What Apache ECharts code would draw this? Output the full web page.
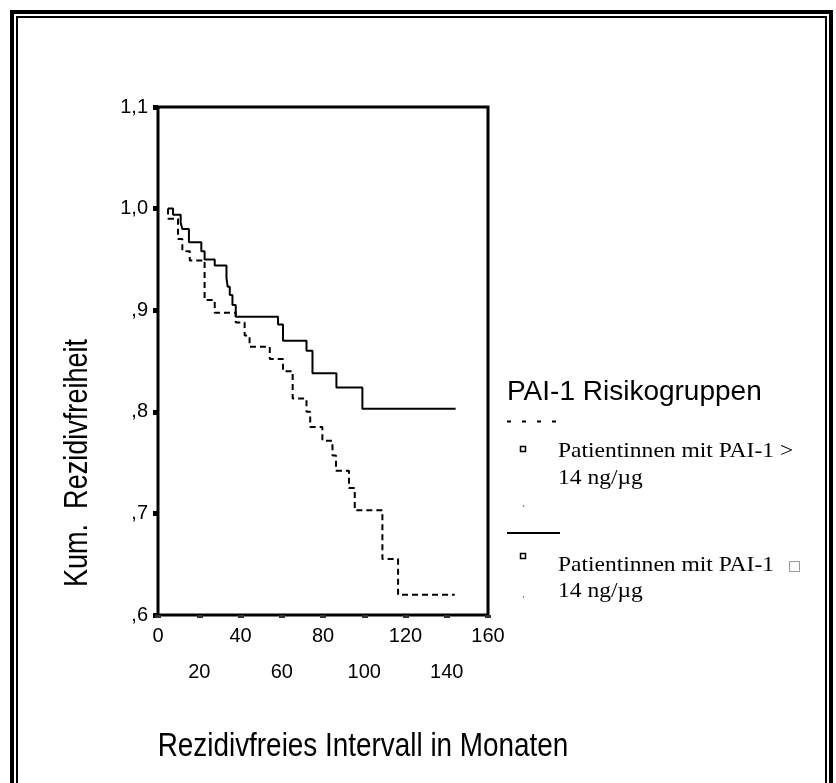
<!DOCTYPE html>
<html><head><meta charset="utf-8">
<script src="https://cdn.jsdelivr.net/npm/echarts@6/dist/echarts.min.js"></script>
<style>html,body{margin:0;padding:0;background:#fff}#c{width:836px;height:783px}</style>
</head><body><div id="c"></div>
<script>
// Kaplan-Meier curves (months, cumulative recurrence-free survival)
const highTimes = [4.85, 4.9, 9.7, 11.8, 15.4, 22.6, 27.5, 37.7, 42.0, 44.4, 54.2, 60.6, 65.3, 72.0, 73.8, 79.7, 84.6, 86.3, 92.6, 95.4, 108.8, 116.4, 143.9];
const highSurv  = [1.0, 0.990, 0.970, 0.958, 0.949, 0.910, 0.8975, 0.888, 0.875, 0.864, 0.852, 0.840, 0.813, 0.800, 0.785, 0.7715, 0.757, 0.742, 0.725, 0.703, 0.655, 0.620, 0.620];
const lowTimes = [4.85, 7.3, 11.0, 11.8, 15.0, 21.0, 22.6, 27.5, 33.2, 33.8, 34.8, 36.1, 37.7, 58.2, 60.6, 72.0, 74.9, 86.5, 99.1, 144.3];
const lowSurv  = [1.0, 0.994, 0.986, 0.980, 0.967, 0.958, 0.950, 0.944, 0.9315, 0.923, 0.915, 0.905, 0.8935, 0.886, 0.870, 0.860, 0.838, 0.824, 0.803, 0.803];
const xTickLabelsRow1 = [0, 40, 80, 120, 160];
const yTickLabels = {"1.1": "1,1", "1.0": "1,0", "0.9": ",9", "0.8": ",8", "0.7": ",7", "0.6": ",6"};
const legendTitle = "PAI-1 Risikogruppen";
const legendHigh = ["Patientinnen mit PAI-1 >", "14 ng/\u00b5g"];
const legendLow = ["Patientinnen mit PAI-1 ", "14 ng/\u00b5g"];
const xTitle = "Rezidivfreies Intervall in Monaten";
const yTitle = "Kum.  Rezidivfreiheit";

const zip = (t, s) => t.map((v, i) => [v, s[i]]);
const SANS = "'Liberation Sans', Arial, sans-serif";

const chart = echarts.init(document.getElementById('c'), null, {renderer: 'canvas'});
chart.setOption({
  backgroundColor: '#fff',
  animation: false,
  grid: {left: 158, top: 107, right: 348, bottom: 168, show: true, borderColor: '#000', borderWidth: 3, backgroundColor: 'transparent'},
  xAxis: {
    type: 'value', min: 0, max: 160, interval: 20,
    axisLine: {show: false},
    splitLine: {show: false},
    axisTick: {show: true, length: 3, lineStyle: {color: '#333', width: 6}},
    axisLabel: {
      color: '#000', fontFamily: SANS, fontSize: 20, margin: 3, lineHeight: 36,
      formatter: v => xTickLabelsRow1.indexOf(v) >= 0 ? String(v) : '\n' + v
    }
  },
  yAxis: {
    type: 'value', min: 0.6, max: 1.1, interval: 0.1,
    axisLine: {show: false},
    splitLine: {show: false},
    axisTick: {show: true, length: 5, lineStyle: {color: '#000', width: 5}},
    axisLabel: {
      color: '#000', fontFamily: SANS, fontSize: 20, margin: 10,
      formatter: v => yTickLabels[v.toFixed(1)] || ''
    }
  },
  series: [
    {type: 'line', step: 'end', data: zip(highTimes, highSurv), showSymbol: false, silent: true,
     lineStyle: {color: '#000', width: 2, type: [6, 4]}},
    {type: 'line', step: 'end', data: zip(lowTimes, lowSurv), showSymbol: false, silent: true,
     lineStyle: {color: '#000', width: 2, type: 'solid'}}
  ],
  graphic: [
    // double frame
    {type: 'rect', shape: {x: 12, y: 12, width: 819, height: 800}, style: {fill: 'none', stroke: '#000', lineWidth: 4}, silent: true},
    {type: 'rect', shape: {x: 17, y: 17, width: 809, height: 800}, style: {fill: 'none', stroke: '#000', lineWidth: 2}, silent: true},
    // axis titles (condensed sans)
    {type: 'text', x: 363, y: 747, scaleX: 0.82, style: {text: xTitle, font: "34px 'Liberation Sans', Arial, sans-serif", fill: '#000', align: 'center', verticalAlign: 'middle'}},
    {type: 'text', x: 78, y: 463, rotation: Math.PI / 2, scaleX: 0.82, style: {text: yTitle, font: "33px 'Liberation Sans', Arial, sans-serif", fill: '#000', align: 'center', verticalAlign: 'middle'}},
    // legend
    {type: 'text', x: 507, y: 392, style: {text: legendTitle, font: "28px 'Liberation Sans', Arial, sans-serif", fill: '#000', align: 'left', verticalAlign: 'middle'}},
    {type: 'line', shape: {x1: 507, y1: 421.5, x2: 560, y2: 421.5}, style: {stroke: '#000', lineWidth: 2, lineDash: [4, 11]}},
    {type: 'rect', shape: {x: 520.5, y: 446.5, width: 5, height: 5}, style: {fill: '#fff', stroke: '#000', lineWidth: 1.5}},
    {type: 'text', x: 558, y: 451, scaleX: 1.12, style: {text: legendHigh[0], font: "21px 'Liberation Serif', 'Times New Roman', serif", fill: '#000', align: 'left', verticalAlign: 'middle'}},
    {type: 'text', x: 558, y: 478, scaleX: 1.12, style: {text: legendHigh[1], font: "21px 'Liberation Serif', 'Times New Roman', serif", fill: '#000', align: 'left', verticalAlign: 'middle'}},
    {type: 'circle', shape: {cx: 523.5, cy: 506, r: 0.8}, style: {fill: '#555'}},
    {type: 'line', shape: {x1: 507, y1: 533, x2: 560, y2: 533}, style: {stroke: '#000', lineWidth: 2}},
    {type: 'rect', shape: {x: 520.5, y: 553.5, width: 5, height: 5}, style: {fill: '#fff', stroke: '#000', lineWidth: 1.5}},
    {type: 'text', x: 558, y: 565, scaleX: 1.12, style: {text: legendLow[0], font: "21px 'Liberation Serif', 'Times New Roman', serif", fill: '#000', align: 'left', verticalAlign: 'middle'}},
    {type: 'rect', shape: {x: 789.5, y: 561.5, width: 10, height: 10}, style: {fill: 'none', stroke: '#999', lineWidth: 1}},
    {type: 'text', x: 558, y: 591, scaleX: 1.12, style: {text: legendLow[1], font: "21px 'Liberation Serif', 'Times New Roman', serif", fill: '#000', align: 'left', verticalAlign: 'middle'}},
    {type: 'circle', shape: {cx: 523.5, cy: 597, r: 0.8}, style: {fill: '#555'}}
  ]
});
</script>
</body></html>
